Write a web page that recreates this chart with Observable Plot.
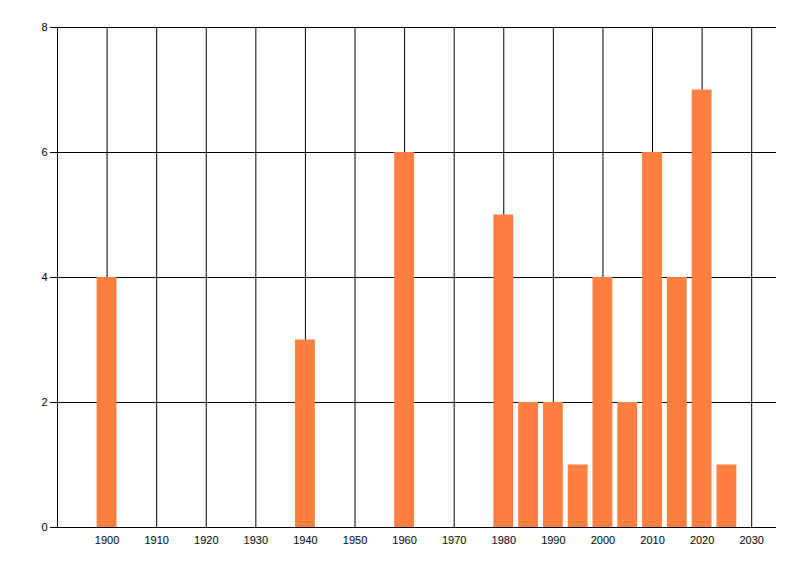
<!DOCTYPE html>
<html><head>
<meta charset="utf-8">
<script src="https://cdn.jsdelivr.net/npm/d3@7"></script>
<script src="https://cdn.jsdelivr.net/npm/@observablehq/plot@0.6"></script>
<style>body{margin:0;background:#fff}</style>
</head><body><div id="chart"></div>
<script>
const years = [1900, 1940, 1960, 1980, 1985, 1990, 1995, 2000, 2005, 2010, 2015, 2020, 2025];
const counts = [4, 3, 6, 5, 2, 2, 1, 4, 2, 6, 4, 7, 1];
const xTicks = [1900, 1910, 1920, 1930, 1940, 1950, 1960, 1970, 1980, 1990, 2000, 2010, 2020, 2030];
const yTicks = [0, 2, 4, 6, 8];
const barHalfWidth = 2;
const barColor = "#ff7f40";

const data = years.map((y, i) => ({year: y, count: counts[i]}));

const chart = Plot.plot({
  width: 800, height: 576,
  marginLeft: 57, marginTop: 27, marginBottom: 49, marginRight: 24,
  style: {fontFamily: "'Liberation Sans', Arial, sans-serif", fontSize: "11px", color: "#000", background: "#fff"},
  x: {domain: [1890, 2035], ticks: xTicks, tickFormat: d => String(d)},
  y: {domain: [0, 8], ticks: yTicks},
  marks: [
    Plot.ruleX(xTicks, {stroke: "#000", strokeWidth: 1}),
    Plot.ruleY(yTicks, {stroke: "#000", strokeWidth: 1, insetLeft: -7}),
    Plot.ruleX([1890], {stroke: "#000", strokeWidth: 1}),
    Plot.rectY(data, {x1: d => d.year - barHalfWidth, x2: d => d.year + barHalfWidth, y: "count", fill: barColor}),
    Plot.axisX({ticks: xTicks, tickSize: 0, tickPadding: 9, label: null, tickFormat: d => String(d)}),
    Plot.axisY({ticks: yTicks, tickSize: 0, tickPadding: 10, label: null})
  ]
});
document.getElementById("chart").append(chart);
</script>
</body></html>
